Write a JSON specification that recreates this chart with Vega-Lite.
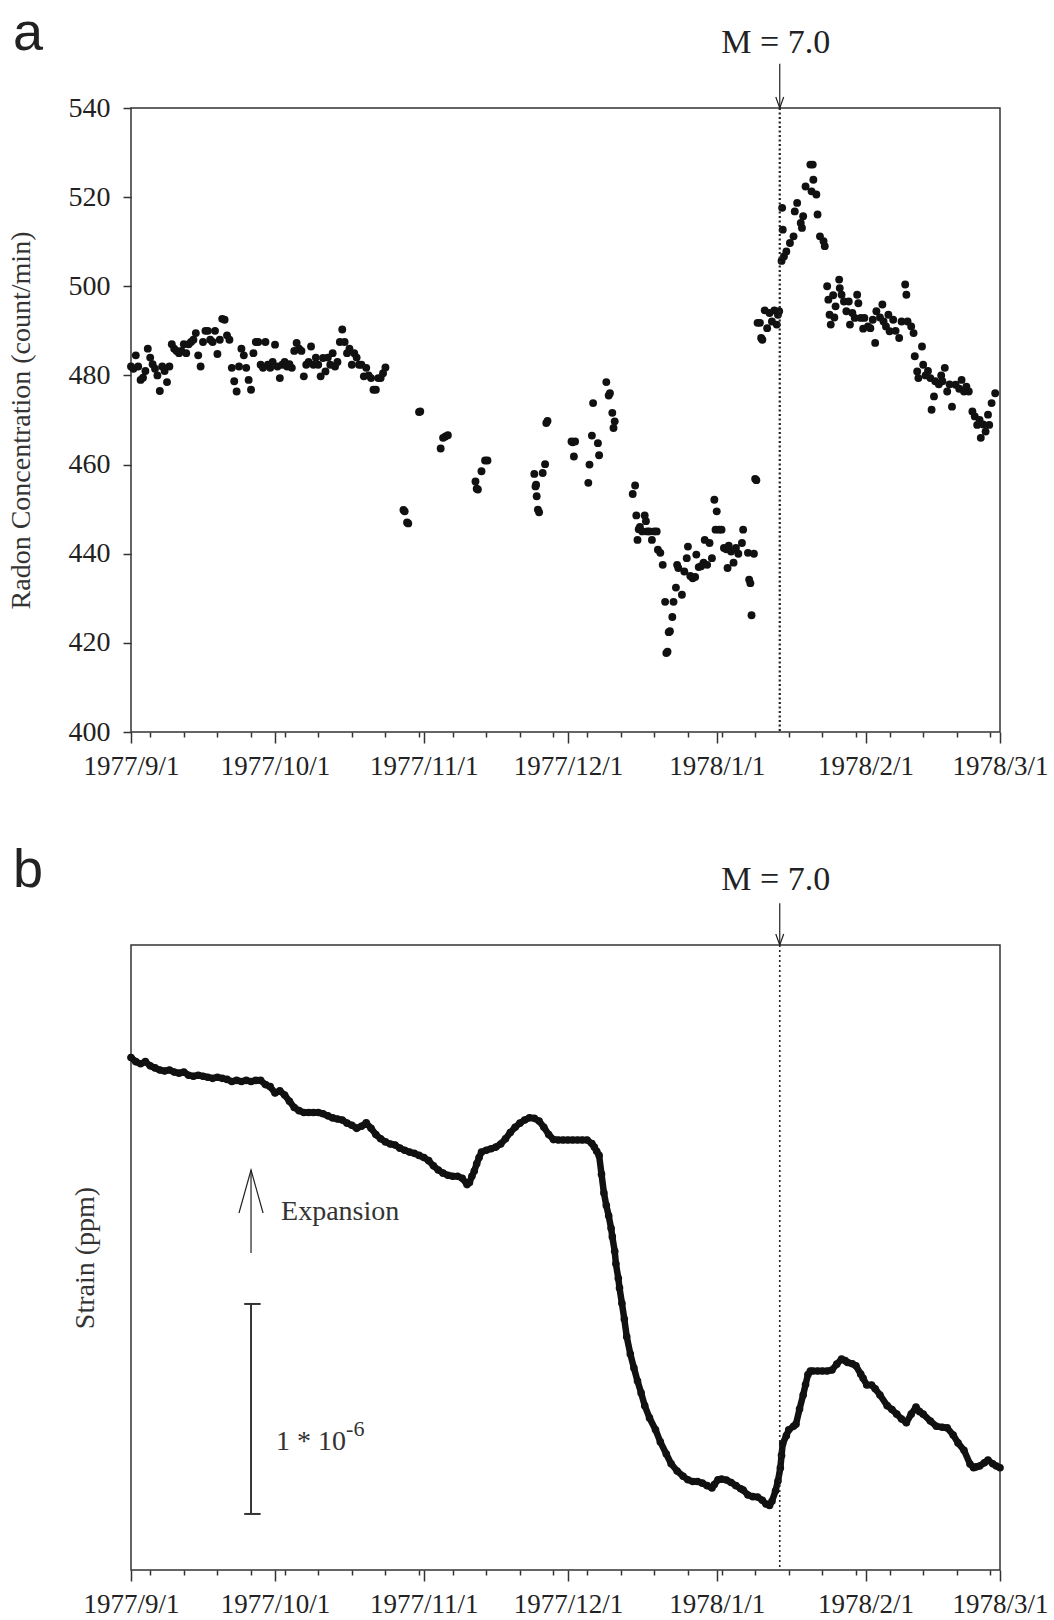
{
"$schema": "https://vega.github.io/schema/vega-lite/v6.json",
"background": "white",
"padding": {"left": 6, "top": 5, "right": 0, "bottom": 0},
"bounds": "flush",
"spacing": 213,
"config": {
  "view": {"stroke": "#333", "strokeWidth": 1.5},
  "font": "Liberation Serif",
  "axis": {"labelFont": "Liberation Serif", "titleFont": "Liberation Serif", "labelFontSize": 28, "titleFontSize": 28, "titleFontWeight": "normal", "labelColor": "#222", "titleColor": "#333", "domain": false, "grid": false, "tickColor": "#333", "tickWidth": 1.5},
  "title": {"font": "Liberation Sans", "fontSize": 54, "fontWeight": "normal", "color": "#222"}
},
"datasets": {
  "events": [{"t": "1978-01-14T03:00", "label": "M = 7.0"}],
  "radon": [
{"t":"1977-09-01T00:00","radon":482},{"t":"1977-09-01T12:00","radon":481.5},
{"t":"1977-09-02T00:00","radon":484.5},{"t":"1977-09-02T12:00","radon":482},
{"t":"1977-09-03T00:00","radon":479},{"t":"1977-09-03T12:00","radon":479.5},
{"t":"1977-09-04T00:00","radon":481},{"t":"1977-09-04T12:00","radon":486},
{"t":"1977-09-05T00:00","radon":484},{"t":"1977-09-05T12:00","radon":482.5},
{"t":"1977-09-06T00:00","radon":481.5},{"t":"1977-09-06T12:00","radon":480},
{"t":"1977-09-07T00:00","radon":476.5},{"t":"1977-09-07T12:00","radon":482},
{"t":"1977-09-08T00:00","radon":481},{"t":"1977-09-08T12:00","radon":478.5},
{"t":"1977-09-09T00:00","radon":482},{"t":"1977-09-09T12:00","radon":487},
{"t":"1977-09-10T00:00","radon":486},{"t":"1977-09-10T12:00","radon":485.5},
{"t":"1977-09-11T00:00","radon":485},{"t":"1977-09-11T12:00","radon":485.5},
{"t":"1977-09-12T00:00","radon":487},{"t":"1977-09-12T12:00","radon":485},
{"t":"1977-09-13T00:00","radon":487},{"t":"1977-09-13T12:00","radon":487.5},
{"t":"1977-09-14T00:00","radon":488},{"t":"1977-09-14T12:00","radon":489.5},
{"t":"1977-09-15T00:00","radon":484.5},{"t":"1977-09-15T12:00","radon":482},
{"t":"1977-09-16T00:00","radon":487.5},{"t":"1977-09-16T12:00","radon":490},
{"t":"1977-09-17T00:00","radon":490},{"t":"1977-09-17T12:00","radon":488},
{"t":"1977-09-18T00:00","radon":487.5},{"t":"1977-09-18T12:00","radon":490},
{"t":"1977-09-19T00:00","radon":484.8},{"t":"1977-09-19T12:00","radon":488},
{"t":"1977-09-20T00:00","radon":492.7},{"t":"1977-09-20T12:00","radon":492.5},
{"t":"1977-09-21T00:00","radon":489},{"t":"1977-09-21T12:00","radon":488},
{"t":"1977-09-22T00:00","radon":481.7},{"t":"1977-09-22T12:00","radon":478.7},
{"t":"1977-09-23T00:00","radon":476.4},{"t":"1977-09-23T12:00","radon":482},
{"t":"1977-09-24T00:00","radon":486},{"t":"1977-09-24T12:00","radon":484.5},
{"t":"1977-09-25T00:00","radon":481.7},{"t":"1977-09-25T12:00","radon":479},
{"t":"1977-09-26T00:00","radon":476.8},{"t":"1977-09-26T12:00","radon":485},
{"t":"1977-09-27T00:00","radon":487.5},{"t":"1977-09-27T12:00","radon":487.5},
{"t":"1977-09-28T00:00","radon":482.4},{"t":"1977-09-28T12:00","radon":481.7},
{"t":"1977-09-29T00:00","radon":487.5},{"t":"1977-09-29T12:00","radon":482.4},
{"t":"1977-09-30T00:00","radon":481.7},{"t":"1977-09-30T12:00","radon":483},
{"t":"1977-10-01T00:00","radon":486.9},{"t":"1977-10-01T12:00","radon":482},
{"t":"1977-10-02T00:00","radon":479.4},{"t":"1977-10-02T12:00","radon":482.4},
{"t":"1977-10-03T00:00","radon":483},{"t":"1977-10-03T12:00","radon":482},
{"t":"1977-10-04T00:00","radon":482.5},{"t":"1977-10-04T12:00","radon":481.7},
{"t":"1977-10-05T00:00","radon":485.5},{"t":"1977-10-05T12:00","radon":487.3},
{"t":"1977-10-06T00:00","radon":486},{"t":"1977-10-06T12:00","radon":485.5},
{"t":"1977-10-07T00:00","radon":479.8},{"t":"1977-10-07T12:00","radon":482.4},
{"t":"1977-10-08T00:00","radon":483},{"t":"1977-10-08T12:00","radon":486.5},
{"t":"1977-10-09T00:00","radon":482.4},{"t":"1977-10-09T12:00","radon":484},
{"t":"1977-10-10T00:00","radon":482.4},{"t":"1977-10-10T12:00","radon":479.8},
{"t":"1977-10-11T00:00","radon":483.9},{"t":"1977-10-11T12:00","radon":480.9},
{"t":"1977-10-12T00:00","radon":484},{"t":"1977-10-12T12:00","radon":482.4},
{"t":"1977-10-13T00:00","radon":485},{"t":"1977-10-13T12:00","radon":482},
{"t":"1977-10-14T00:00","radon":483},{"t":"1977-10-14T12:00","radon":487.5},
{"t":"1977-10-15T00:00","radon":490.3},{"t":"1977-10-15T12:00","radon":487.5},
{"t":"1977-10-16T00:00","radon":485},{"t":"1977-10-16T12:00","radon":486},
{"t":"1977-10-17T00:00","radon":482.4},{"t":"1977-10-17T12:00","radon":485},
{"t":"1977-10-18T00:00","radon":484},{"t":"1977-10-18T12:00","radon":482.4},
{"t":"1977-10-19T00:00","radon":482.4},{"t":"1977-10-19T12:00","radon":479.8},
{"t":"1977-10-20T00:00","radon":481.7},{"t":"1977-10-20T12:00","radon":480},
{"t":"1977-10-21T00:00","radon":479.4},{"t":"1977-10-21T12:00","radon":476.8},
{"t":"1977-10-22T00:00","radon":476.8},{"t":"1977-10-22T12:00","radon":479.4},
{"t":"1977-10-23T00:00","radon":479.4},{"t":"1977-10-23T12:00","radon":480.5},
{"t":"1977-10-24T00:00","radon":481.8},
{"t":"1977-10-27T18:00","radon":449.8},{"t":"1977-10-28T00:00","radon":449.5},
{"t":"1977-10-28T12:00","radon":447.0},{"t":"1977-10-28T18:00","radon":446.8},
{"t":"1977-10-31T00:00","radon":471.8},{"t":"1977-10-31T06:00","radon":471.9},
{"t":"1977-11-04T12:00","radon":463.6},{"t":"1977-11-05T00:00","radon":466.0},
{"t":"1977-11-05T12:00","radon":466.3},{"t":"1977-11-06T00:00","radon":466.6},
{"t":"1977-11-11T18:00","radon":456.2},{"t":"1977-11-12T00:00","radon":454.6},
{"t":"1977-11-12T06:00","radon":454.4},{"t":"1977-11-13T00:00","radon":458.5},
{"t":"1977-11-13T18:00","radon":460.9},{"t":"1977-11-14T06:00","radon":460.9},
{"t":"1977-11-24T00:00","radon":457.9},{"t":"1977-11-24T06:00","radon":455.1},
{"t":"1977-11-24T12:00","radon":452.9},{"t":"1977-11-24T18:00","radon":449.9},
{"t":"1977-11-25T00:00","radon":449.3},{"t":"1977-11-24T09:00","radon":455.5},
{"t":"1977-11-25T18:00","radon":458.1},{"t":"1977-11-26T06:00","radon":460.1},
{"t":"1977-11-26T12:00","radon":469.3},{"t":"1977-11-26T18:00","radon":469.8},
{"t":"1977-12-01T18:00","radon":465.2},{"t":"1977-12-02T00:00","radon":465.0},
{"t":"1977-12-02T06:00","radon":461.8},{"t":"1977-12-02T12:00","radon":465.2},
{"t":"1977-12-05T06:00","radon":455.9},{"t":"1977-12-05T12:00","radon":460.0},
{"t":"1977-12-06T00:00","radon":466.5},{"t":"1977-12-06T06:00","radon":473.8},
{"t":"1977-12-07T06:00","radon":464.8},{"t":"1977-12-07T12:00","radon":462.1},
{"t":"1977-12-09T00:00","radon":478.5},{"t":"1977-12-09T12:00","radon":475.5},
{"t":"1977-12-09T18:00","radon":476.0},{"t":"1977-12-10T06:00","radon":471.6},
{"t":"1977-12-10T12:00","radon":468.2},{"t":"1977-12-10T18:00","radon":469.7},
{"t":"1977-12-14T12:00","radon":453.4},{"t":"1977-12-15T00:00","radon":455.3},
{"t":"1977-12-15T06:00","radon":448.6},{"t":"1977-12-15T12:00","radon":443.1},
{"t":"1977-12-15T18:00","radon":445.5},{"t":"1977-12-16T00:00","radon":446.0},
{"t":"1977-12-16T12:00","radon":445.0},{"t":"1977-12-17T00:00","radon":448.6},
{"t":"1977-12-17T06:00","radon":447.3},{"t":"1977-12-17T12:00","radon":445.0},
{"t":"1977-12-18T00:00","radon":445.0},{"t":"1977-12-18T12:00","radon":443.1},
{"t":"1977-12-19T00:00","radon":445.0},{"t":"1977-12-19T12:00","radon":445.0},
{"t":"1977-12-19T18:00","radon":440.9},{"t":"1977-12-20T06:00","radon":440.2},
{"t":"1977-12-20T18:00","radon":437.5},{"t":"1977-12-21T06:00","radon":429.2},
{"t":"1977-12-21T12:00","radon":417.7},{"t":"1977-12-21T18:00","radon":418.0},
{"t":"1977-12-22T00:00","radon":422.4},{"t":"1977-12-22T06:00","radon":422.6},
{"t":"1977-12-22T18:00","radon":425.8},{"t":"1977-12-23T00:00","radon":429.2},
{"t":"1977-12-23T12:00","radon":432.4},{"t":"1977-12-23T18:00","radon":437.5},
{"t":"1977-12-24T00:00","radon":436.8},{"t":"1977-12-24T18:00","radon":430.8},
{"t":"1977-12-25T06:00","radon":436.0},{"t":"1977-12-25T18:00","radon":439.0},
{"t":"1977-12-26T00:00","radon":441.6},{"t":"1977-12-26T12:00","radon":435.0},
{"t":"1977-12-27T00:00","radon":434.5},{"t":"1977-12-27T12:00","radon":434.8},
{"t":"1977-12-27T18:00","radon":439.8},{"t":"1977-12-28T06:00","radon":437.0},
{"t":"1977-12-28T18:00","radon":437.2},{"t":"1977-12-29T06:00","radon":438.0},
{"t":"1977-12-29T12:00","radon":443.1},{"t":"1977-12-30T00:00","radon":437.5},
{"t":"1977-12-30T12:00","radon":442.4},{"t":"1977-12-31T00:00","radon":439.0},
{"t":"1977-12-31T12:00","radon":452.1},{"t":"1977-12-31T18:00","radon":445.4},
{"t":"1978-01-01T00:00","radon":449.5},{"t":"1978-01-01T12:00","radon":445.4},
{"t":"1978-01-02T00:00","radon":445.4},{"t":"1978-01-02T12:00","radon":441.3},
{"t":"1978-01-03T00:00","radon":441.0},{"t":"1978-01-03T06:00","radon":436.8},
{"t":"1978-01-03T12:00","radon":441.8},{"t":"1978-01-04T00:00","radon":440.5},
{"t":"1978-01-04T12:00","radon":438.0},{"t":"1978-01-05T00:00","radon":441.3},
{"t":"1978-01-05T12:00","radon":440.0},{"t":"1978-01-06T06:00","radon":442.4},
{"t":"1978-01-06T12:00","radon":445.4},{"t":"1978-01-07T12:00","radon":440.2},
{"t":"1978-01-07T18:00","radon":434.2},{"t":"1978-01-08T00:00","radon":433.4},
{"t":"1978-01-08T06:00","radon":426.2},{"t":"1978-01-08T18:00","radon":440.0},
{"t":"1978-01-09T00:00","radon":456.8},{"t":"1978-01-09T06:00","radon":456.5},
{"t":"1978-01-09T12:00","radon":491.8},{"t":"1978-01-10T00:00","radon":491.8},
{"t":"1978-01-10T06:00","radon":488.4},{"t":"1978-01-10T12:00","radon":488.0},
{"t":"1978-01-11T00:00","radon":494.6},{"t":"1978-01-11T12:00","radon":490.6},
{"t":"1978-01-12T00:00","radon":494.0},{"t":"1978-01-12T12:00","radon":492.1},
{"t":"1978-01-13T00:00","radon":494.6},{"t":"1978-01-13T12:00","radon":491.4},
{"t":"1978-01-13T18:00","radon":493.6},{"t":"1978-01-14T00:00","radon":494.4},
{"t":"1978-01-14T12:00","radon":505.7},{"t":"1978-01-14T18:00","radon":512.7},
{"t":"1978-01-14T15:00","radon":517.6},{"t":"1978-01-15T00:00","radon":506.7},
{"t":"1978-01-15T12:00","radon":507.8},{"t":"1978-01-16T06:00","radon":509.7},
{"t":"1978-01-17T00:00","radon":511.2},{"t":"1978-01-17T06:00","radon":516.8},
{"t":"1978-01-17T18:00","radon":518.7},{"t":"1978-01-18T12:00","radon":514.2},
{"t":"1978-01-18T18:00","radon":513.1},{"t":"1978-01-19T00:00","radon":515.7},
{"t":"1978-01-19T12:00","radon":522.4},{"t":"1978-01-20T12:00","radon":527.3},
{"t":"1978-01-20T18:00","radon":521.3},{"t":"1978-01-21T00:00","radon":527.3},
{"t":"1978-01-21T03:00","radon":523.9},{"t":"1978-01-21T18:00","radon":520.6},
{"t":"1978-01-22T00:00","radon":516.1},{"t":"1978-01-22T12:00","radon":511.2},
{"t":"1978-01-23T06:00","radon":510.1},{"t":"1978-01-23T12:00","radon":509.0},
{"t":"1978-01-24T00:00","radon":500.0},{"t":"1978-01-24T06:00","radon":497.0},
{"t":"1978-01-24T12:00","radon":493.6},{"t":"1978-01-24T18:00","radon":491.4},
{"t":"1978-01-25T06:00","radon":498.0},{"t":"1978-01-25T12:00","radon":493.0},
{"t":"1978-01-25T18:00","radon":495.5},{"t":"1978-01-26T12:00","radon":501.5},
{"t":"1978-01-26T15:00","radon":499.6},{"t":"1978-01-27T00:00","radon":498.1},
{"t":"1978-01-27T12:00","radon":496.6},{"t":"1978-01-28T00:00","radon":494.4},
{"t":"1978-01-28T12:00","radon":496.6},{"t":"1978-01-28T18:00","radon":491.4},
{"t":"1978-01-29T06:00","radon":494.0},{"t":"1978-01-29T18:00","radon":492.9},
{"t":"1978-01-30T06:00","radon":498.1},{"t":"1978-01-30T12:00","radon":496.2},
{"t":"1978-01-31T00:00","radon":492.9},{"t":"1978-01-31T12:00","radon":490.5},
{"t":"1978-01-31T18:00","radon":492.9},{"t":"1978-02-01T12:00","radon":491.0},
{"t":"1978-02-02T00:00","radon":490.6},{"t":"1978-02-02T12:00","radon":492.5},
{"t":"1978-02-03T00:00","radon":487.3},
{"t":"1978-02-03T06:00","radon":494.4},{"t":"1978-02-04T00:00","radon":493.0},
{"t":"1978-02-04T12:00","radon":495.9},{"t":"1978-02-04T18:00","radon":492.1},
{"t":"1978-02-05T06:00","radon":491.0},
{"t":"1978-02-05T18:00","radon":493.6},{"t":"1978-02-06T00:00","radon":489.9},
{"t":"1978-02-06T18:00","radon":492.5},{"t":"1978-02-07T06:00","radon":490.0},
{"t":"1978-02-08T00:00","radon":488.4},{"t":"1978-02-08T12:00","radon":492.1},
{"t":"1978-02-09T06:00","radon":500.4},{"t":"1978-02-09T12:00","radon":498.1},
{"t":"1978-02-09T18:00","radon":492.1},{"t":"1978-02-10T12:00","radon":491.0},
{"t":"1978-02-11T00:00","radon":489.5},{"t":"1978-02-11T06:00","radon":484.3},
{"t":"1978-02-11T18:00","radon":480.9},{"t":"1978-02-12T00:00","radon":479.4},
{"t":"1978-02-12T18:00","radon":486.5},{"t":"1978-02-13T00:00","radon":482.4},
{"t":"1978-02-13T12:00","radon":480.0},{"t":"1978-02-14T00:00","radon":481.0},
{"t":"1978-02-14T12:00","radon":479.4},{"t":"1978-02-14T18:00","radon":472.3},
{"t":"1978-02-15T06:00","radon":475.3},{"t":"1978-02-15T12:00","radon":478.7},
{"t":"1978-02-16T06:00","radon":478.0},{"t":"1978-02-16T18:00","radon":480.0},
{"t":"1978-02-17T00:00","radon":478.7},
{"t":"1978-02-17T12:00","radon":481.7},{"t":"1978-02-18T00:00","radon":476.4},
{"t":"1978-02-18T12:00","radon":478.0},
{"t":"1978-02-19T00:00","radon":473.0},{"t":"1978-02-19T18:00","radon":477.9},
{"t":"1978-02-20T12:00","radon":477.0},{"t":"1978-02-21T00:00","radon":479.0},
{"t":"1978-02-21T12:00","radon":476.4},{"t":"1978-02-22T00:00","radon":477.5},
{"t":"1978-02-22T12:00","radon":476.4},
{"t":"1978-02-23T06:00","radon":471.9},{"t":"1978-02-23T18:00","radon":470.8},
{"t":"1978-02-24T06:00","radon":468.9},{"t":"1978-02-24T18:00","radon":470.0},
{"t":"1978-02-25T00:00","radon":466.0},
{"t":"1978-02-25T12:00","radon":469.0},{"t":"1978-02-26T00:00","radon":467.4},
{"t":"1978-02-26T12:00","radon":471.2},{"t":"1978-02-26T18:00","radon":468.9},
{"t":"1978-02-27T06:00","radon":473.8},{"t":"1978-02-28T00:00","radon":476.0}
  ],
  "strain": [
{"t":"1977-09-01T00:00","strain":2.46},{"t":"1977-09-02T00:00","strain":2.44},{"t":"1977-09-03T00:00","strain":2.43},
{"t":"1977-09-04T00:00","strain":2.44},{"t":"1977-09-05T00:00","strain":2.42},{"t":"1977-09-06T00:00","strain":2.41},
{"t":"1977-09-07T00:00","strain":2.40},{"t":"1977-09-08T00:00","strain":2.395},{"t":"1977-09-09T00:00","strain":2.40},
{"t":"1977-09-10T00:00","strain":2.39},{"t":"1977-09-11T00:00","strain":2.385},{"t":"1977-09-12T00:00","strain":2.39},
{"t":"1977-09-13T00:00","strain":2.375},{"t":"1977-09-14T00:00","strain":2.37},{"t":"1977-09-15T00:00","strain":2.375},
{"t":"1977-09-16T00:00","strain":2.37},{"t":"1977-09-17T00:00","strain":2.365},{"t":"1977-09-18T00:00","strain":2.36},
{"t":"1977-09-19T00:00","strain":2.365},{"t":"1977-09-20T00:00","strain":2.36},{"t":"1977-09-21T00:00","strain":2.355},
{"t":"1977-09-22T00:00","strain":2.345},{"t":"1977-09-23T00:00","strain":2.35},{"t":"1977-09-24T00:00","strain":2.345},
{"t":"1977-09-25T00:00","strain":2.35},{"t":"1977-09-26T00:00","strain":2.345},{"t":"1977-09-27T00:00","strain":2.35},
{"t":"1977-09-28T00:00","strain":2.35},{"t":"1977-09-29T00:00","strain":2.33},{"t":"1977-09-30T00:00","strain":2.32},
{"t":"1977-10-01T00:00","strain":2.29},{"t":"1977-10-02T00:00","strain":2.30},{"t":"1977-10-03T00:00","strain":2.28},
{"t":"1977-10-04T00:00","strain":2.25},{"t":"1977-10-05T00:00","strain":2.22},{"t":"1977-10-06T00:00","strain":2.205},
{"t":"1977-10-07T00:00","strain":2.196},{"t":"1977-10-08T00:00","strain":2.196},{"t":"1977-10-09T00:00","strain":2.196},
{"t":"1977-10-10T00:00","strain":2.196},{"t":"1977-10-11T00:00","strain":2.19},{"t":"1977-10-12T00:00","strain":2.18},
{"t":"1977-10-13T00:00","strain":2.17},{"t":"1977-10-14T00:00","strain":2.165},{"t":"1977-10-15T00:00","strain":2.16},
{"t":"1977-10-16T00:00","strain":2.145},{"t":"1977-10-17T00:00","strain":2.135},{"t":"1977-10-18T00:00","strain":2.12},
{"t":"1977-10-19T00:00","strain":2.13},{"t":"1977-10-20T00:00","strain":2.146},{"t":"1977-10-21T00:00","strain":2.12},
{"t":"1977-10-22T00:00","strain":2.09},{"t":"1977-10-23T00:00","strain":2.07},{"t":"1977-10-24T00:00","strain":2.055},
{"t":"1977-10-25T00:00","strain":2.045},{"t":"1977-10-26T00:00","strain":2.04},{"t":"1977-10-27T00:00","strain":2.025},
{"t":"1977-10-28T00:00","strain":2.015},{"t":"1977-10-29T00:00","strain":2.006},{"t":"1977-10-30T00:00","strain":2.00},
{"t":"1977-10-31T00:00","strain":1.99},{"t":"1977-11-01T00:00","strain":1.98},{"t":"1977-11-02T00:00","strain":1.965},
{"t":"1977-11-03T00:00","strain":1.94},{"t":"1977-11-04T00:00","strain":1.92},{"t":"1977-11-05T00:00","strain":1.905},
{"t":"1977-11-06T00:00","strain":1.895},{"t":"1977-11-07T00:00","strain":1.89},{"t":"1977-11-08T00:00","strain":1.89},
{"t":"1977-11-09T00:00","strain":1.88},{"t":"1977-11-10T00:00","strain":1.85},{"t":"1977-11-10T12:00","strain":1.86},
{"t":"1977-11-11T00:00","strain":1.89},{"t":"1977-11-11T12:00","strain":1.915},{"t":"1977-11-12T00:00","strain":1.95},
{"t":"1977-11-12T12:00","strain":1.98},{"t":"1977-11-13T00:00","strain":2.006},{"t":"1977-11-14T00:00","strain":2.015},
{"t":"1977-11-15T00:00","strain":2.022},{"t":"1977-11-16T00:00","strain":2.03},{"t":"1977-11-17T00:00","strain":2.045},
{"t":"1977-11-18T00:00","strain":2.07},{"t":"1977-11-19T00:00","strain":2.10},{"t":"1977-11-20T00:00","strain":2.125},
{"t":"1977-11-21T00:00","strain":2.145},{"t":"1977-11-22T00:00","strain":2.16},{"t":"1977-11-23T00:00","strain":2.171},
{"t":"1977-11-24T00:00","strain":2.168},{"t":"1977-11-25T00:00","strain":2.155},{"t":"1977-11-26T00:00","strain":2.125},
{"t":"1977-11-27T00:00","strain":2.09},{"t":"1977-11-28T00:00","strain":2.066},{"t":"1977-11-29T00:00","strain":2.064},
{"t":"1977-11-30T00:00","strain":2.064},{"t":"1977-12-01T00:00","strain":2.064},{"t":"1977-12-02T00:00","strain":2.064},
{"t":"1977-12-03T00:00","strain":2.064},{"t":"1977-12-04T00:00","strain":2.064},{"t":"1977-12-05T00:00","strain":2.064},
{"t":"1977-12-06T00:00","strain":2.047},{"t":"1977-12-06T12:00","strain":2.03},{"t":"1977-12-07T00:00","strain":2.01},
{"t":"1977-12-07T12:00","strain":1.99},{"t":"1977-12-08T00:00","strain":1.90},{"t":"1977-12-08T12:00","strain":1.81},
{"t":"1977-12-09T00:00","strain":1.75},{"t":"1977-12-09T12:00","strain":1.70},{"t":"1977-12-10T00:00","strain":1.64},
{"t":"1977-12-10T06:00","strain":1.60},{"t":"1977-12-10T18:00","strain":1.53},{"t":"1977-12-11T00:00","strain":1.47},
{"t":"1977-12-11T12:00","strain":1.40},{"t":"1977-12-11T18:00","strain":1.354},{"t":"1977-12-12T06:00","strain":1.28},
{"t":"1977-12-12T18:00","strain":1.205},{"t":"1977-12-13T06:00","strain":1.12},{"t":"1977-12-14T00:00","strain":1.037},
{"t":"1977-12-14T18:00","strain":0.97},{"t":"1977-12-15T12:00","strain":0.907},{"t":"1977-12-16T06:00","strain":0.85},
{"t":"1977-12-17T00:00","strain":0.789},{"t":"1977-12-18T00:00","strain":0.73},{"t":"1977-12-19T06:00","strain":0.673},
{"t":"1977-12-20T06:00","strain":0.615},{"t":"1977-12-21T12:00","strain":0.557},{"t":"1977-12-22T12:00","strain":0.51},
{"t":"1977-12-23T18:00","strain":0.475},{"t":"1977-12-25T00:00","strain":0.45},{"t":"1977-12-26T00:00","strain":0.433},
{"t":"1977-12-27T00:00","strain":0.425},{"t":"1977-12-28T00:00","strain":0.425},{"t":"1977-12-29T00:00","strain":0.417},
{"t":"1977-12-30T00:00","strain":0.405},{"t":"1977-12-31T00:00","strain":0.394},{"t":"1977-12-31T12:00","strain":0.41},
{"t":"1978-01-01T06:00","strain":0.433},{"t":"1978-01-02T00:00","strain":0.436},{"t":"1978-01-03T00:00","strain":0.432},
{"t":"1978-01-04T00:00","strain":0.42},{"t":"1978-01-05T00:00","strain":0.405},{"t":"1978-01-06T00:00","strain":0.39},
{"t":"1978-01-06T12:00","strain":0.384},{"t":"1978-01-07T12:00","strain":0.36},{"t":"1978-01-08T12:00","strain":0.352},
{"t":"1978-01-09T12:00","strain":0.35},{"t":"1978-01-10T12:00","strain":0.335},{"t":"1978-01-11T06:00","strain":0.317},
{"t":"1978-01-12T00:00","strain":0.31},{"t":"1978-01-12T12:00","strain":0.33},{"t":"1978-01-13T06:00","strain":0.38},
{"t":"1978-01-13T18:00","strain":0.427},{"t":"1978-01-14T06:00","strain":0.49},{"t":"1978-01-14T12:00","strain":0.55},
{"t":"1978-01-14T18:00","strain":0.607},{"t":"1978-01-15T12:00","strain":0.645},{"t":"1978-01-16T00:00","strain":0.673},
{"t":"1978-01-17T00:00","strain":0.69},{"t":"1978-01-17T12:00","strain":0.70},{"t":"1978-01-18T06:00","strain":0.773},
{"t":"1978-01-19T00:00","strain":0.84},{"t":"1978-01-19T12:00","strain":0.89},{"t":"1978-01-20T00:00","strain":0.938},
{"t":"1978-01-20T12:00","strain":0.955},{"t":"1978-01-21T00:00","strain":0.955},{"t":"1978-01-22T00:00","strain":0.955},
{"t":"1978-01-23T00:00","strain":0.955},{"t":"1978-01-24T00:00","strain":0.955},{"t":"1978-01-25T00:00","strain":0.96},
{"t":"1978-01-26T00:00","strain":0.988},{"t":"1978-01-27T00:00","strain":1.013},{"t":"1978-01-27T18:00","strain":1.005},
{"t":"1978-01-28T06:00","strain":0.996},{"t":"1978-01-29T06:00","strain":0.99},{"t":"1978-01-30T00:00","strain":0.98},
{"t":"1978-01-31T00:00","strain":0.94},{"t":"1978-01-31T12:00","strain":0.92},{"t":"1978-02-01T06:00","strain":0.888},
{"t":"1978-02-02T06:00","strain":0.888},{"t":"1978-02-03T00:00","strain":0.87},{"t":"1978-02-04T00:00","strain":0.84},
{"t":"1978-02-05T12:00","strain":0.789},{"t":"1978-02-06T12:00","strain":0.77},{"t":"1978-02-07T12:00","strain":0.748},
{"t":"1978-02-08T12:00","strain":0.725},{"t":"1978-02-09T12:00","strain":0.707},{"t":"1978-02-10T12:00","strain":0.748},
{"t":"1978-02-11T12:00","strain":0.782},{"t":"1978-02-12T06:00","strain":0.76},{"t":"1978-02-13T00:00","strain":0.748},
{"t":"1978-02-14T12:00","strain":0.715},{"t":"1978-02-15T18:00","strain":0.69},{"t":"1978-02-17T00:00","strain":0.685},
{"t":"1978-02-18T00:00","strain":0.682},{"t":"1978-02-19T06:00","strain":0.648},{"t":"1978-02-20T06:00","strain":0.61},
{"t":"1978-02-21T12:00","strain":0.575},{"t":"1978-02-22T18:00","strain":0.509},{"t":"1978-02-23T12:00","strain":0.491},
{"t":"1978-02-24T00:00","strain":0.495},{"t":"1978-02-24T18:00","strain":0.499},{"t":"1978-02-25T18:00","strain":0.515},
{"t":"1978-02-26T12:00","strain":0.528},{"t":"1978-02-27T12:00","strain":0.51},{"t":"1978-02-28T06:00","strain":0.499},
{"t":"1978-03-01T00:00","strain":0.491}
  ]
},
"vconcat": [
  {
    "width": 869,
    "height": 624,
    "title": {"text": "a", "anchor": "start", "frame": "group", "dx": -118, "offset": -77.5, "baseline": "alphabetic"},
    "resolve": {"axis": {"x": "independent"}},
    "layer": [
      {
        "data": {"name": "radon"},
        "mark": {"type": "circle", "size": 62, "color": "#111", "opacity": 1},
        "encoding": {
          "x": {"field": "t", "type": "temporal",
            "scale": {"domain": [{"year": 1977, "month": 9, "date": 1}, {"year": 1978, "month": 3, "date": 1}]},
            "axis": {"orient": "bottom", "title": null, "labelFlush": false, "labelOverlap": false, "labelAngle": 0, "labelPadding": 10, "labelFontSize": 27, "tickSize": 11,
              "format": "%Y/%-m/%-d",
              "values": [{"year":1977,"month":9,"date":1},{"year":1977,"month":10,"date":1},{"year":1977,"month":11,"date":1},{"year":1977,"month":12,"date":1},{"year":1978,"month":1,"date":1},{"year":1978,"month":2,"date":1},{"year":1978,"month":3,"date":1}]}},
          "y": {"field": "radon", "type": "quantitative",
            "scale": {"domain": [400, 540], "nice": false, "zero": false},
            "axis": {"title": "Radon Concentration (count/min)", "values": [400, 420, 440, 460, 480, 500, 520, 540], "tickSize": 8, "labelPadding": 13, "titlePadding": 33}}
        }
      },
      {
        "data": {"name": "events"},
        "mark": {"type": "rule", "strokeDash": [2, 2.5], "strokeWidth": 2.2, "color": "#222"},
        "encoding": {"x": {"field": "t", "type": "temporal",
          "axis": {"orient": "bottom", "title": null, "labels": false, "tickSize": 5,
            "values": [{"year":1977,"month":9,"date":5},{"year":1977,"month":9,"date":12},{"year":1977,"month":9,"date":19},{"year":1977,"month":9,"date":26},
              {"year":1977,"month":10,"date":3},{"year":1977,"month":10,"date":10},{"year":1977,"month":10,"date":17},{"year":1977,"month":10,"date":24},{"year":1977,"month":10,"date":31},
              {"year":1977,"month":11,"date":7},{"year":1977,"month":11,"date":14},{"year":1977,"month":11,"date":21},{"year":1977,"month":11,"date":28},
              {"year":1977,"month":12,"date":5},{"year":1977,"month":12,"date":12},{"year":1977,"month":12,"date":19},{"year":1977,"month":12,"date":26},
              {"year":1978,"month":1,"date":2},{"year":1978,"month":1,"date":9},{"year":1978,"month":1,"date":16},{"year":1978,"month":1,"date":23},{"year":1978,"month":1,"date":30},
              {"year":1978,"month":2,"date":6},{"year":1978,"month":2,"date":13},{"year":1978,"month":2,"date":20},{"year":1978,"month":2,"date":27}]}}}
      },
      {
        "data": {"name": "events"},
        "mark": {"type": "rule", "strokeWidth": 1.2, "color": "#222", "clip": false},
        "encoding": {"x": {"field": "t", "type": "temporal", "axis": null}, "y": {"datum": 549.9}, "y2": {"datum": 540}}
      },
      {
        "data": {"name": "events"},
        "mark": {"type": "point", "shape": "M-0.36,-1L0,0L0.36,-1", "size": 484, "filled": false, "strokeWidth": 1.2, "color": "#222", "opacity": 1, "clip": false},
        "encoding": {"x": {"field": "t", "type": "temporal", "axis": null}, "y": {"datum": 540}}
      },
      {
        "data": {"name": "events"},
        "mark": {"type": "text", "font": "Liberation Serif", "fontSize": 34, "align": "center", "baseline": "alphabetic", "color": "#222", "clip": false, "dx": -4},
        "encoding": {"x": {"field": "t", "type": "temporal", "axis": null}, "y": {"datum": 552.3}, "text": {"field": "label"}}
      }
    ]
  },
  {
    "width": 869,
    "height": 625,
    "title": {"text": "b", "anchor": "start", "frame": "group", "dx": -118, "offset": -78, "baseline": "alphabetic"},
    "resolve": {"axis": {"x": "independent"}},
    "layer": [
      {
        "data": {"name": "strain"},
        "mark": {"type": "line", "strokeWidth": 6.5, "color": "#111", "strokeJoin": "round", "strokeCap": "round"},
        "encoding": {
          "x": {"field": "t", "type": "temporal",
            "scale": {"domain": [{"year": 1977, "month": 9, "date": 1}, {"year": 1978, "month": 3, "date": 1}]},
            "axis": {"orient": "bottom", "title": null, "labelFlush": false, "labelOverlap": false, "labelAngle": 0, "labelPadding": 10, "labelFontSize": 27, "tickSize": 11,
              "format": "%Y/%-m/%-d",
              "values": [{"year":1977,"month":9,"date":1},{"year":1977,"month":10,"date":1},{"year":1977,"month":11,"date":1},{"year":1977,"month":12,"date":1},{"year":1978,"month":1,"date":1},{"year":1978,"month":2,"date":1},{"year":1978,"month":3,"date":1}]}},
          "y": {"field": "strain", "type": "quantitative",
            "scale": {"domain": [0, 3], "nice": false, "zero": false},
            "axis": {"title": "Strain (ppm)", "ticks": false, "labels": false, "titlePadding": 32}}
        }
      },
      {
        "data": {"name": "strain"},
        "mark": {"type": "circle", "size": 58, "color": "#111", "opacity": 1},
        "encoding": {"x": {"field": "t", "type": "temporal", "axis": null}, "y": {"field": "strain", "type": "quantitative"}}
      },
      {
        "data": {"name": "events"},
        "mark": {"type": "rule", "strokeDash": [2, 3], "strokeWidth": 1.6, "color": "#222"},
        "encoding": {"x": {"field": "t", "type": "temporal",
          "axis": {"orient": "bottom", "title": null, "labels": false, "tickSize": 5,
            "values": [{"year":1977,"month":9,"date":5},{"year":1977,"month":9,"date":12},{"year":1977,"month":9,"date":19},{"year":1977,"month":9,"date":26},
              {"year":1977,"month":10,"date":3},{"year":1977,"month":10,"date":10},{"year":1977,"month":10,"date":17},{"year":1977,"month":10,"date":24},{"year":1977,"month":10,"date":31},
              {"year":1977,"month":11,"date":7},{"year":1977,"month":11,"date":14},{"year":1977,"month":11,"date":21},{"year":1977,"month":11,"date":28},
              {"year":1977,"month":12,"date":5},{"year":1977,"month":12,"date":12},{"year":1977,"month":12,"date":19},{"year":1977,"month":12,"date":26},
              {"year":1978,"month":1,"date":2},{"year":1978,"month":1,"date":9},{"year":1978,"month":1,"date":16},{"year":1978,"month":1,"date":23},{"year":1978,"month":1,"date":30},
              {"year":1978,"month":2,"date":6},{"year":1978,"month":2,"date":13},{"year":1978,"month":2,"date":20},{"year":1978,"month":2,"date":27}]}}}
      },
      {
        "data": {"name": "events"},
        "mark": {"type": "rule", "strokeWidth": 1.2, "color": "#222", "clip": false},
        "encoding": {"x": {"field": "t", "type": "temporal", "axis": null}, "y": {"datum": 3.2}, "y2": {"datum": 3.0}}
      },
      {
        "data": {"name": "events"},
        "mark": {"type": "point", "shape": "M-0.36,-1L0,0L0.36,-1", "size": 484, "filled": false, "strokeWidth": 1.2, "color": "#222", "opacity": 1, "clip": false},
        "encoding": {"x": {"field": "t", "type": "temporal", "axis": null}, "y": {"datum": 3.0}}
      },
      {
        "data": {"name": "events"},
        "mark": {"type": "text", "font": "Liberation Serif", "fontSize": 34, "align": "center", "baseline": "alphabetic", "color": "#222", "clip": false, "dx": -4},
        "encoding": {"x": {"field": "t", "type": "temporal", "axis": null}, "y": {"datum": 3.264}, "text": {"field": "label"}}
      },
      {
        "data": {"values": [{}]},
        "mark": {"type": "rule", "strokeWidth": 1.2, "color": "#222"},
        "encoding": {"x": {"datum": {"year": 1977, "month": 9, "date": 26}, "axis": null}, "y": {"datum": 1.522}, "y2": {"datum": 1.92}}
      },
      {
        "data": {"values": [{}]},
        "mark": {"type": "point", "shape": "M-0.28,1L0,0L0.28,1", "size": 7396, "filled": false, "strokeWidth": 1.2, "color": "#222", "opacity": 1},
        "encoding": {"x": {"datum": {"year": 1977, "month": 9, "date": 26}, "axis": null}, "y": {"datum": 1.92}}
      },
      {
        "data": {"values": [{}]},
        "mark": {"type": "rule", "strokeWidth": 2, "color": "#333"},
        "encoding": {"x": {"datum": {"year": 1977, "month": 9, "date": 26}, "axis": null}, "y": {"datum": 0.269}, "y2": {"datum": 1.277}}
      },
      {
        "data": {"values": [{"v": 0.269}, {"v": 1.277}]},
        "mark": {"type": "rule", "strokeWidth": 2, "color": "#333"},
        "encoding": {"x": {"datum": {"year": 1977, "month": 9, "date": 24, "hours": 14}, "axis": null}, "x2": {"datum": {"year": 1977, "month": 9, "date": 28}}, "y": {"field": "v", "type": "quantitative"}}
      },
      {
        "data": {"values": [{"label": "Expansion"}]},
        "mark": {"type": "text", "font": "Liberation Serif", "fontSize": 28, "align": "left", "baseline": "alphabetic", "color": "#333"},
        "encoding": {"x": {"datum": {"year": 1977, "month": 10, "date": 2, "hours": 6}, "axis": null}, "y": {"datum": 1.68}, "text": {"field": "label"}}
      },
      {
        "data": {"values": [{"label": "1 * 10"}]},
        "mark": {"type": "text", "font": "Liberation Serif", "fontSize": 28, "align": "left", "baseline": "alphabetic", "color": "#333"},
        "encoding": {"x": {"datum": {"year": 1977, "month": 10, "date": 1, "hours": 5}, "axis": null}, "y": {"datum": 0.576}, "text": {"field": "label"}}
      },
      {
        "data": {"values": [{"label": "-6"}]},
        "mark": {"type": "text", "font": "Liberation Serif", "fontSize": 22, "align": "left", "baseline": "alphabetic", "color": "#333"},
        "encoding": {"x": {"datum": {"year": 1977, "month": 10, "date": 15, "hours": 19}, "axis": null}, "y": {"datum": 0.643}, "text": {"field": "label"}}
      }
    ]
  }
]
}
